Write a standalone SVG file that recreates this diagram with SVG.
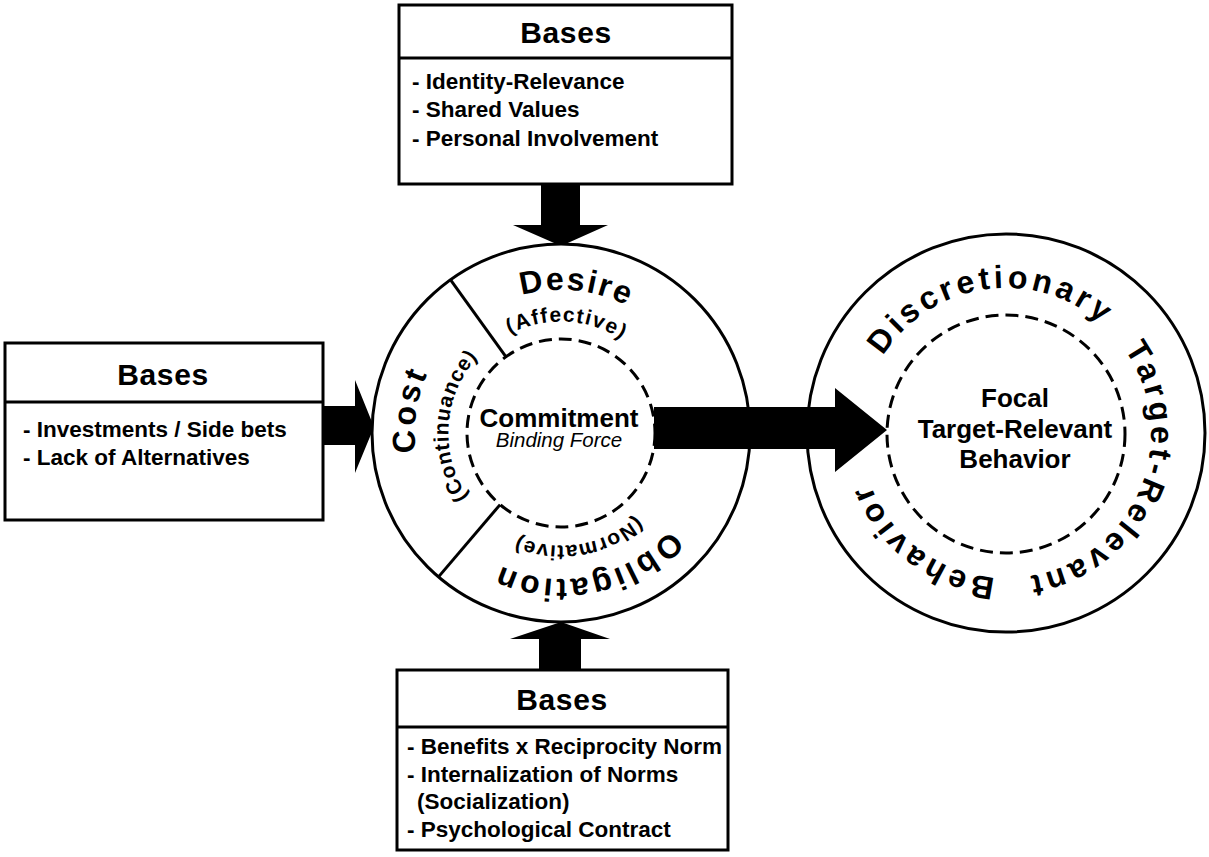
<svg xmlns="http://www.w3.org/2000/svg" width="1209" height="857" viewBox="0 0 1209 857">
<style>
text{font-family:"Liberation Sans",Arial,Helvetica,sans-serif;fill:#000}
.box{fill:#fff;stroke:#000;stroke-width:3}
.div{stroke:#000;stroke-width:3}
.hd{font-size:30px;font-weight:bold;letter-spacing:0.6px;text-anchor:middle}
.it{font-size:22.5px;font-weight:bold}
.ring{fill:#fff;stroke:#000;stroke-width:3}
.dash{fill:none;stroke:#000;stroke-width:3;stroke-dasharray:13 7}
.big{font-size:32px;font-weight:bold}
.sub{font-size:21px;font-weight:bold}
.rt{font-size:32px;font-weight:bold;letter-spacing:3.8px}
.ctr{font-size:26px;font-weight:bold;text-anchor:middle}
.arr{fill:#000}
</style>
<defs>
<path id="pDesire" d="M423.5,393.6 A143,143 0 0 1 703.7,423"/>
<path id="pAff" d="M452.4,407.9 A111.5,111.5 0 0 1 671.7,419.4"/>
<path id="pCost" d="M514.7,571.5 A146,146 0 0 1 557.2,287"/>
<path id="pCont" d="M533.8,542.2 A112.5,112.5 0 0 1 549.2,321.1"/>
<path id="pObl" d="M707,429.2 A146,146 0 0 1 425.2,486.5"/>
<path id="pNorm" d="M673.5,433.8 A112.5,112.5 0 0 1 455,470.7"/>
<path id="pDisc" d="M861.1,427.4 A145,145 0 0 1 1144.1,388.7"/>
<path id="pTarg" d="M1085.6,311.8 A145,145 0 0 1 972.6,574.1"/>
<path id="pBeh" d="M1104.2,539.7 A145,145 0 0 1 877.3,366.3"/>
</defs>

<g id="box-top">
<rect class="box" x="399" y="5" width="333" height="179"/>
<line class="div" x1="399" y1="58" x2="732" y2="58"/>
<text class="hd" x="566" y="43">Bases</text>
<text class="it" x="412" y="89">- Identity-Relevance</text>
<text class="it" x="412" y="117">- Shared Values</text>
<text class="it" x="412" y="146">- Personal Involvement</text>
</g>

<g id="box-left">
<rect class="box" x="5" y="343" width="318" height="177"/>
<line class="div" x1="5" y1="402" x2="323" y2="402"/>
<text class="hd" x="163" y="385">Bases</text>
<text class="it" x="23" y="437">- Investments / Side bets</text>
<text class="it" x="23" y="465">- Lack of Alternatives</text>
</g>

<g id="box-bottom">
<rect class="box" x="397" y="670" width="331" height="180"/>
<line class="div" x1="397" y1="727" x2="728" y2="727"/>
<text class="hd" x="562" y="710">Bases</text>
<text class="it" x="407" y="754">- Benefits x Reciprocity Norm</text>
<text class="it" x="407" y="782">- Internalization of Norms</text>
<text class="it" x="417" y="809">(Socialization)</text>
<text class="it" x="407" y="837">- Psychological Contract</text>
</g>

<g id="connectors-in">
<polygon class="arr" points="541,184 580,184 580,225 608,225 561,246 513,225 541,225"/>
<polygon class="arr" points="323,406 355,406 355,380 374,427 355,473 355,445 323,445"/>
<polygon class="arr" points="539,670 581,670 581,639 610,639 561,622 510,639 539,639"/>
</g>

<g id="node-commitment">
<circle class="ring" cx="561" cy="433" r="189"/>
<circle class="dash" cx="561" cy="433" r="94"/>
<line class="div" x1="450.4" y1="279.7" x2="506" y2="356.8"/>
<line class="div" x1="438.5" y1="576.9" x2="500.1" y2="504.6"/>
<text class="big" letter-spacing="2"><textPath href="#pDesire" startOffset="50%" text-anchor="middle">Desire</textPath></text>
<text class="sub" letter-spacing="1.4"><textPath href="#pAff" startOffset="50%" text-anchor="middle">(Affective)</textPath></text>
<text class="big" letter-spacing="3"><textPath href="#pCost" startOffset="50%" text-anchor="middle">Cost</textPath></text>
<text class="sub" letter-spacing="0.8"><textPath href="#pCont" startOffset="50%" text-anchor="middle">(Continuance)</textPath></text>
<text class="big" letter-spacing="3"><textPath href="#pObl" startOffset="50%" text-anchor="middle">Obligation</textPath></text>
<text class="sub" letter-spacing="1"><textPath href="#pNorm" startOffset="50%" text-anchor="middle">(Normative)</textPath></text>
<text class="ctr" x="559" y="427">Commitment</text>
<text x="559" y="447" font-size="20.5" font-style="italic" text-anchor="middle">Binding Force</text>
</g>

<g id="node-behavior">
<circle class="ring" cx="1006" cy="433" r="199"/>
<circle class="dash" cx="1006" cy="434" r="119"/>
<text class="rt"><textPath href="#pDisc" startOffset="50%" text-anchor="middle">Discretionary</textPath></text>
<text class="rt"><textPath href="#pTarg" startOffset="50%" text-anchor="middle">Target-Relevant</textPath></text>
<text class="rt"><textPath href="#pBeh" startOffset="50%" text-anchor="middle">Behavior</textPath></text>
<text class="ctr" x="1015" y="407">Focal</text>
<text class="ctr" x="1015" y="438">Target-Relevant</text>
<text class="ctr" x="1015" y="468">Behavior</text>
</g>

<g id="connectors">
<polygon class="arr" points="654,407 835,407 835,388 887,430 835,472 835,449 654,449"/>
</g>
</svg>
